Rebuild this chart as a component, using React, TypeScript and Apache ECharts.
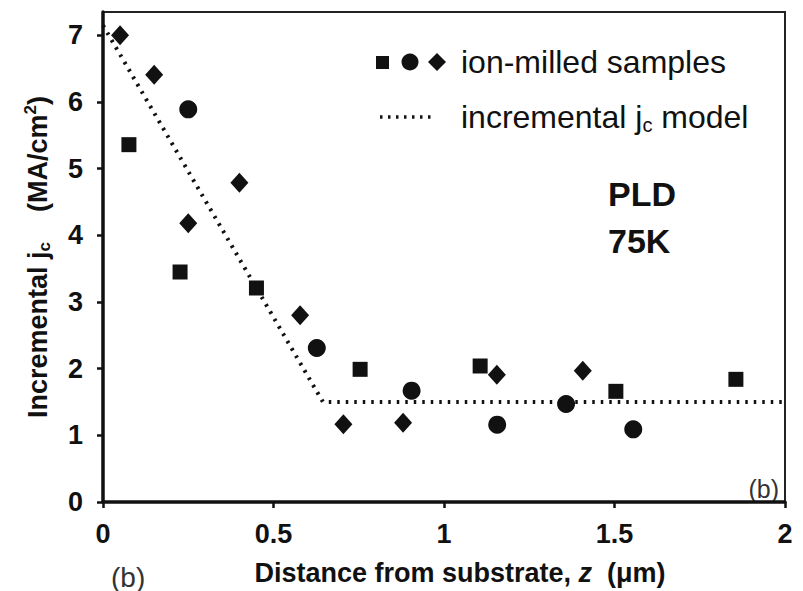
import React, { useEffect, useRef } from 'react';
import * as echarts from 'echarts';

// ---- data ----
const squares: [number, number][] = [
  [0.076, 5.36], [0.226, 3.45], [0.45, 3.21], [0.754, 1.99],
  [1.106, 2.04], [1.504, 1.66], [1.856, 1.84],
];
const circles: [number, number][] = [
  [0.25, 5.89], [0.627, 2.31], [0.905, 1.67], [1.156, 1.16],
  [1.358, 1.47], [1.555, 1.09],
];
const diamonds: [number, number][] = [
  [0.05, 7.0], [0.15, 6.41], [0.25, 4.18], [0.4, 4.79], [0.578, 2.8],
  [0.705, 1.165], [0.88, 1.19], [1.155, 1.91], [1.407, 1.97],
];
const modelLine: [number, number][] = [[0, 7.15], [0.645, 1.5], [2, 1.5]];
const yTickValues = [0, 1, 2, 3, 4, 5, 6, 7];

const FONT = '"Liberation Sans", Arial, Helvetica, sans-serif';
const INK = '#111';

export default function App() {
  const ref = useRef<HTMLDivElement>(null);
  useEffect(() => {
    const chart = echarts.init(ref.current!, null, { renderer: 'svg' });
    const legendRow2Y = 117;
    chart.setOption({
      animation: false,
      backgroundColor: '#fff',
      grid: {
        left: 103, right: 18, top: 12, bottom: 86,
        show: true, borderColor: '#222', borderWidth: 2,
        backgroundColor: 'transparent',
      },
      xAxis: {
        type: 'value', min: 0, max: 2, interval: 0.5,
        axisLine: { show: true, onZero: false, lineStyle: { color: INK, width: 3.5 } },
        axisTick: { show: true, length: 6, lineStyle: { color: INK, width: 2.5 } },
        splitLine: { show: false },
        axisLabel: { margin: 18, fontSize: 27, fontWeight: 'bold', color: INK, fontFamily: FONT },
        name: 'Distance from substrate, {i|z}  (μm)',
        nameLocation: 'middle',
        nameGap: 57,
        nameTextStyle: {
          fontSize: 27, fontWeight: 'bold', color: INK, fontFamily: FONT,
          padding: [0, 0, 0, 32],
          rich: { i: { fontSize: 27, fontWeight: 'bold', fontStyle: 'italic', color: INK, fontFamily: FONT } },
        },
      },
      yAxis: {
        type: 'value', min: 0, max: 7.35, interval: 1,
        axisLine: { show: true, onZero: false, lineStyle: { color: INK, width: 3.5 } },
        axisTick: { show: true, length: 6, customValues: yTickValues, lineStyle: { color: INK, width: 2.5 } },
        splitLine: { show: false },
        axisLabel: {
          margin: 20, fontSize: 27, fontWeight: 'bold', color: INK, fontFamily: FONT,
          customValues: yTickValues,
        },
        name: 'Incremental j{sub|c}    (MA/cm{sup|2})',
        nameLocation: 'middle',
        nameGap: 50,
        nameTextStyle: {
          fontSize: 27, fontWeight: 'bold', color: INK, fontFamily: FONT,
          rich: {
            sub: { fontSize: 17, fontWeight: 'bold', color: INK, fontFamily: FONT, padding: [14, 0, 0, 0] },
            sup: { fontSize: 17, fontWeight: 'bold', color: INK, fontFamily: FONT, padding: [0, 0, 14, 0] },
          },
        },
      },
      series: [
        {
          type: 'line', data: modelLine, symbol: 'none', silent: true,
          lineStyle: { color: INK, width: 4, type: [2.5, 6], cap: 'butt' },
          z: 1,
        },
        { type: 'scatter', data: squares, symbol: 'rect', symbolSize: 15, itemStyle: { color: INK, opacity: 1 }, z: 3 },
        { type: 'scatter', data: circles, symbol: 'circle', symbolSize: 18, itemStyle: { color: INK, opacity: 1 }, z: 3 },
        { type: 'scatter', data: diamonds, symbol: 'diamond', symbolSize: [18, 20], itemStyle: { color: INK, opacity: 1 }, z: 3 },
      ],
      graphic: [
        // legend row 1
        { type: 'rect', shape: { x: 376, y: 56, width: 13, height: 13 }, style: { fill: INK } },
        { type: 'circle', shape: { cx: 410, cy: 62, r: 8.5 }, style: { fill: INK } },
        { type: 'polygon', shape: { points: [[437, 53], [446, 62], [437, 71], [428, 62]] }, style: { fill: INK } },
        {
          type: 'text', x: 461, y: 62,
          style: { text: 'ion-milled samples', fontSize: 32, fontFamily: FONT, fill: INK, verticalAlign: 'middle' },
        },
        // legend row 2
        {
          type: 'line', shape: { x1: 380, y1: legendRow2Y, x2: 436, y2: legendRow2Y },
          style: { stroke: INK, lineWidth: 3.5, lineDash: [2.5, 5.5] },
        },
        {
          type: 'text', x: 461, y: legendRow2Y,
          style: {
            text: 'incremental j{sub|c} model', fontSize: 32, fontFamily: FONT, fill: INK,
            verticalAlign: 'middle',
            rich: { sub: { fontSize: 20, fontFamily: FONT, fill: INK, padding: [16, 0, 0, 0] } },
          },
        },
        // annotations
        {
          type: 'text', x: 608, y: 194,
          style: { text: 'PLD', fontSize: 34, fontWeight: 'bold', fontFamily: FONT, fill: INK, verticalAlign: 'middle' },
        },
        {
          type: 'text', x: 608, y: 241,
          style: { text: '75K', fontSize: 34, fontWeight: 'bold', fontFamily: FONT, fill: INK, verticalAlign: 'middle' },
        },
        {
          type: 'text', x: 779, y: 489,
          style: { text: '(b)', fontSize: 25, fontFamily: FONT, fill: '#333', align: 'right', verticalAlign: 'middle' },
        },
        {
          type: 'text', x: 111, y: 577,
          style: { text: '(b)', fontSize: 28, fontFamily: FONT, fill: '#333', verticalAlign: 'middle' },
        },
      ],
    });
    return () => chart.dispose();
  }, []);
  return <div ref={ref} style={{ position: 'absolute', left: 0, top: 0, width: 803, height: 591 }} />;
}
